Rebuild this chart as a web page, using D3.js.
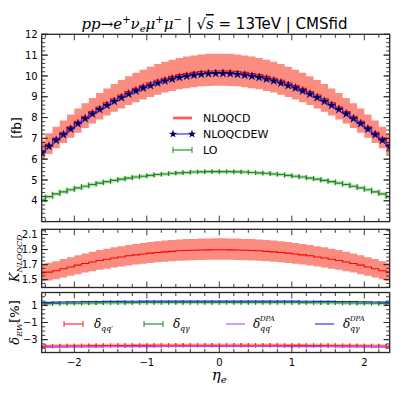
<!DOCTYPE html>
<html>
<head>
<meta charset="utf-8">
<script src="https://cdn.jsdelivr.net/npm/d3@7"></script>
<style>
    body { margin: 0; background: #fff; }
    text { font-family: "DejaVu Sans", sans-serif; fill: #000; }
    .math { font-family: "DejaVu Serif", serif; font-style: italic; }
    .frame { fill: none; stroke: #262626; stroke-width: 1.3; }
    .tick-line { stroke: #262626; stroke-width: 0.9; }
</style>
</head>
<body>
<div id="chart"></div>
<script>

// bin centres in eta_e (bin width 0.1)
var eta = [-2.45, -2.35, -2.25, -2.15, -2.05, -1.95, -1.85, -1.75, -1.65, -1.55,
    -1.45, -1.35, -1.25, -1.15, -1.05, -0.95, -0.85, -0.75, -0.65, -0.55,
    -0.45, -0.35, -0.25, -0.15, -0.05, 0.05, 0.15, 0.25, 0.35, 0.45,
    0.55, 0.65, 0.75, 0.85, 0.95, 1.05, 1.15, 1.25, 1.35, 1.45,
    1.55, 1.65, 1.75, 1.85, 1.95, 2.05, 2.15, 2.25, 2.35];

var nloqcd = [6.41, 6.72, 7.01, 7.29, 7.56, 7.82, 8.06, 8.29, 8.51, 8.71,
    8.90, 9.08, 9.25, 9.40, 9.54, 9.67, 9.79, 9.89, 9.98, 10.06,
    10.12, 10.17, 10.21, 10.24, 10.25, 10.25, 10.24, 10.21, 10.17, 10.12,
    10.06, 9.98, 9.89, 9.79, 9.67, 9.54, 9.40, 9.25, 9.08, 8.90,
    8.71, 8.51, 8.29, 8.06, 7.82, 7.56, 7.29, 7.01, 6.72];

var nloqcd_up = [6.91, 7.24, 7.56, 7.86, 8.15, 8.43, 8.69, 8.94, 9.18, 9.40,
    9.61, 9.80, 9.98, 10.15, 10.30, 10.44, 10.57, 10.68, 10.78, 10.86,
    10.93, 10.98, 11.03, 11.06, 11.07, 11.07, 11.06, 11.03, 10.98, 10.93,
    10.86, 10.78, 10.68, 10.57, 10.44, 10.30, 10.15, 9.98, 9.80, 9.61,
    9.40, 9.18, 8.94, 8.69, 8.43, 8.15, 7.86, 7.56, 7.24];

var nloqcd_down = [5.96, 6.25, 6.52, 6.78, 7.03, 7.27, 7.50, 7.71, 7.91, 8.10,
    8.28, 8.44, 8.60, 8.74, 8.87, 8.99, 9.10, 9.20, 9.28, 9.36,
    9.41, 9.46, 9.50, 9.52, 9.53, 9.53, 9.52, 9.50, 9.46, 9.41,
    9.36, 9.28, 9.20, 9.10, 8.99, 8.87, 8.74, 8.60, 8.44, 8.28,
    8.10, 7.91, 7.71, 7.50, 7.27, 7.03, 6.78, 6.52, 6.25];

var nloqcdew = [6.31, 6.62, 6.91, 7.18, 7.45, 7.71, 7.95, 8.18, 8.39, 8.59,
    8.78, 8.96, 9.13, 9.28, 9.42, 9.54, 9.66, 9.76, 9.85, 9.93,
    9.99, 10.04, 10.08, 10.11, 10.12, 10.12, 10.11, 10.08, 10.04, 9.99,
    9.93, 9.85, 9.76, 9.66, 9.54, 9.42, 9.28, 9.13, 8.96, 8.78,
    8.59, 8.39, 8.18, 7.95, 7.71, 7.45, 7.18, 6.91, 6.62];

var lo = [4.03, 4.20, 4.33, 4.43, 4.53, 4.62, 4.70, 4.78, 4.85, 4.92,
    4.98, 5.04, 5.09, 5.14, 5.18, 5.22, 5.26, 5.29, 5.32, 5.34,
    5.36, 5.38, 5.39, 5.40, 5.40, 5.40, 5.40, 5.39, 5.38, 5.36,
    5.34, 5.32, 5.29, 5.26, 5.22, 5.18, 5.14, 5.09, 5.04, 4.98,
    4.92, 4.85, 4.78, 4.70, 4.62, 4.53, 4.43, 4.33, 4.20];

// EW corrections in percent
var delta_qq = [-3.78, -3.76, -3.75, -3.74, -3.73, -3.72, -3.71, -3.70, -3.70, -3.69,
    -3.69, -3.68, -3.68, -3.67, -3.67, -3.67, -3.66, -3.66, -3.66, -3.66,
    -3.66, -3.65, -3.65, -3.65, -3.65, -3.65, -3.65, -3.65, -3.65, -3.66,
    -3.66, -3.66, -3.66, -3.66, -3.67, -3.67, -3.67, -3.68, -3.68, -3.69,
    -3.69, -3.70, -3.70, -3.71, -3.72, -3.73, -3.74, -3.75, -3.77];

var delta_qq_dpa = [-3.90, -3.89, -3.88, -3.87, -3.86, -3.85, -3.85, -3.84, -3.84, -3.83,
    -3.83, -3.82, -3.82, -3.82, -3.81, -3.81, -3.81, -3.80, -3.80, -3.80,
    -3.80, -3.80, -3.79, -3.79, -3.79, -3.79, -3.79, -3.79, -3.80, -3.80,
    -3.80, -3.80, -3.80, -3.81, -3.81, -3.81, -3.82, -3.82, -3.82, -3.83,
    -3.83, -3.84, -3.84, -3.85, -3.85, -3.86, -3.87, -3.88, -3.89];

var delta_qg = [1.18, 1.20, 1.22, 1.24, 1.25, 1.26, 1.27, 1.28, 1.29, 1.30,
    1.31, 1.31, 1.32, 1.32, 1.33, 1.33, 1.33, 1.34, 1.34, 1.34,
    1.34, 1.34, 1.34, 1.34, 1.34, 1.34, 1.34, 1.34, 1.34, 1.34,
    1.34, 1.34, 1.34, 1.33, 1.33, 1.33, 1.32, 1.32, 1.31, 1.31,
    1.30, 1.29, 1.28, 1.27, 1.26, 1.25, 1.24, 1.22, 1.20];

var delta_qg_dpa = [1.32, 1.35, 1.37, 1.39, 1.41, 1.42, 1.43, 1.44, 1.45, 1.46,
    1.47, 1.47, 1.48, 1.48, 1.49, 1.49, 1.49, 1.50, 1.50, 1.50,
    1.50, 1.50, 1.50, 1.50, 1.50, 1.50, 1.50, 1.50, 1.50, 1.50,
    1.50, 1.50, 1.50, 1.49, 1.49, 1.49, 1.48, 1.48, 1.47, 1.47,
    1.46, 1.45, 1.44, 1.43, 1.42, 1.41, 1.39, 1.37, 1.35];

var x_ticks = [-2, -1, 0, 1, 2];
var main_ticks = [4, 5, 6, 7, 8, 9, 10, 11, 12];
var k_ticks = [1.5, 1.7, 1.9, 2.1];
var ew_ticks = [1, -1, -3];

var width = 399
    , height = 399
    , half_bin = 0.05;

var svg = d3.select("#chart")
    .append("svg")
    .attr("width", width)
    .attr("height", height);

var x = d3.scaleLinear()
    .domain([-2.45, 2.35])
    .range([41.7, 389.7]);

var minus = function(d) { return String(d).replace("-", "\u2212"); };

var panels = [
    {id: "main", top: 34.3, bottom: 221.6, domain: [3, 12], minor: 0.2, ticks: main_ticks, fmt: d3.format("d")},
    {id: "kfac", top: 229.3, bottom: 287.5, domain: [1.396, 2.169], minor: 0.05, ticks: k_ticks, fmt: d3.format(".1f")},
    {id: "ew", top: 292.5, bottom: 352.5, domain: [-4.5, 2.5], minor: 0.5, ticks: ew_ticks, fmt: minus}
];

panels.forEach(function(p) {
    p.y = d3.scaleLinear().domain(p.domain).range([p.bottom, p.top]);
    svg.append("clipPath")
        .attr("id", "clip-" + p.id)
        .append("rect")
        .attr("x", x.range()[0])
        .attr("y", p.top)
        .attr("width", x.range()[1] - x.range()[0])
        .attr("height", p.bottom - p.top);
    p.g = svg.append("g").attr("clip-path", "url(#clip-" + p.id + ")");
});

// step helpers: every bin drawn from its left edge to its right edge
function steps(values) {
    var pts = eta.map(function(e, i) { return [e - half_bin, values[i]]; });
    pts.push([eta[eta.length - 1] + half_bin, values[values.length - 1]]);
    return pts;
}

function stepLine(y) {
    return d3.line()
        .x(function(d) { return x(d[0]); })
        .y(function(d) { return y(d[1]); })
        .curve(d3.curveStepAfter);
}

function stepArea(y, lowVals, highVals) {
    var pts = eta.map(function(e, i) { return [e - half_bin, lowVals[i], highVals[i]]; });
    pts.push([eta[eta.length - 1] + half_bin, lowVals[lowVals.length - 1], highVals[highVals.length - 1]]);
    var area = d3.area()
        .x(function(d) { return x(d[0]); })
        .y0(function(d) { return y(d[1]); })
        .y1(function(d) { return y(d[2]); })
        .curve(d3.curveStepAfter);
    return area(pts);
}

// horizontal error bar with caps at the bin edges
function xErrorBars(g, y, values, color) {
    var bars = g.append("g").attr("stroke", color).attr("fill", "none");
    bars.append("path")
        .attr("d", stepLine(y)(steps(values)))
        .attr("stroke-width", 3.5)
        .attr("stroke-opacity", 0.3);
    eta.forEach(function(e, i) {
        var yy = y(values[i]);
        bars.append("line")
            .attr("x1", x(e - half_bin)).attr("x2", x(e + half_bin))
            .attr("y1", yy).attr("y2", yy)
            .attr("stroke-width", 1.1);
        [e - half_bin, e + half_bin].forEach(function(xe) {
            bars.append("line")
                .attr("x1", x(xe)).attr("x2", x(xe))
                .attr("y1", yy - 2.2).attr("y2", yy + 2.2)
                .attr("stroke-width", 1);
        });
    });
}

// ---------- main panel
var pm = panels[0];

pm.g.append("path")
    .attr("d", stepArea(pm.y, nloqcd_down, nloqcd_up))
    .attr("fill", "#fa8072")
    .attr("fill-opacity", 0.9);

pm.g.append("path")
    .attr("d", stepLine(pm.y)(steps(nloqcd)))
    .attr("fill", "none")
    .attr("stroke", "#ff0000")
    .attr("stroke-width", 1.1);

pm.g.append("path")
    .attr("d", stepLine(pm.y)(steps(nloqcdew)))
    .attr("fill", "none")
    .attr("stroke", "#2020ff")
    .attr("stroke-width", 1.1);

var star = d3.symbol().type(d3.symbolStar).size(22);

pm.g.selectAll(".star")
    .data(eta)
    .enter().append("path")
    .attr("class", "star")
    .attr("d", star)
    .attr("transform", function(d, i) { return "translate(" + x(d) + "," + pm.y(nloqcdew[i]) + ")"; })
    .attr("fill", "#000060")
    .attr("stroke", "#000060")
    .attr("stroke-width", 0.4);

xErrorBars(pm.g, pm.y, lo, "#1a8a1a");

// ---------- K-factor panel
var pk = panels[1];

pk.g.append("path")
    .attr("d", stepArea(pk.y,
        nloqcd_down.map(function(v, i) { return v / lo[i]; }),
        nloqcd_up.map(function(v, i) { return v / lo[i]; })))
    .attr("fill", "#fa8072")
    .attr("fill-opacity", 0.9);

pk.g.append("path")
    .attr("d", stepLine(pk.y)(steps(nloqcd.map(function(v, i) { return v / lo[i]; }))))
    .attr("fill", "none")
    .attr("stroke", "#ff0000")
    .attr("stroke-width", 1.1);

// ---------- EW panel
var pe = panels[2];

xErrorBars(pe.g, pe.y, delta_qg, "#1a8a1a");

pe.g.append("path")
    .attr("d", stepLine(pe.y)(steps(delta_qg_dpa)))
    .attr("fill", "none")
    .attr("stroke", "#2020ff")
    .attr("stroke-width", 1.2);

xErrorBars(pe.g, pe.y, delta_qq, "#ff2020");

pe.g.append("path")
    .attr("d", stepLine(pe.y)(steps(delta_qq_dpa)))
    .attr("fill", "none")
    .attr("stroke", "#c040ff")
    .attr("stroke-width", 1.2);

// ---------- frames and ticks
function tickValues(domain, step) {
    var out = [];
    var start = Math.ceil(domain[0] / step - 1e-6);
    for (var k = start; k * step <= domain[1] + 1e-6; k++) out.push(+(k * step).toFixed(4));
    return out;
}

function isMajor(list, v) {
    return list.some(function(m) { return Math.abs(m - v) < 1e-6; });
}

panels.forEach(function(p, pi) {
    var fg = svg.append("g");
    var x0 = x.range()[0], x1 = x.range()[1];

    var xMinor = tickValues(x.domain(), 0.2);
    var yMinor = tickValues(p.domain, p.minor);
    var yMajor = p.ticks;

    xMinor.forEach(function(v) {
        var len = isMajor(x_ticks, v) ? 6 : 3.5;
        fg.append("line").attr("class", "tick-line")
            .attr("x1", x(v)).attr("x2", x(v)).attr("y1", p.bottom).attr("y2", p.bottom - len);
        fg.append("line").attr("class", "tick-line")
            .attr("x1", x(v)).attr("x2", x(v)).attr("y1", p.top).attr("y2", p.top + len);
    });

    yMinor.concat(yMajor).forEach(function(v) {
        var len = isMajor(yMajor, v) ? 6 : 3.5;
        fg.append("line").attr("class", "tick-line")
            .attr("x1", x0).attr("x2", x0 + len).attr("y1", p.y(v)).attr("y2", p.y(v));
        fg.append("line").attr("class", "tick-line")
            .attr("x1", x1).attr("x2", x1 - len).attr("y1", p.y(v)).attr("y2", p.y(v));
    });

    fg.selectAll(".ylab")
        .data(p.ticks)
        .enter().append("text")
        .attr("x", x0 - 4)
        .attr("y", function(d) { return p.y(d); })
        .attr("dy", "0.36em")
        .attr("text-anchor", "end")
        .attr("font-size", 10)
        .text(p.fmt);

    fg.append("rect").attr("class", "frame")
        .attr("x", x0).attr("y", p.top)
        .attr("width", x1 - x0).attr("height", p.bottom - p.top);

    if (pi == panels.length - 1) {
        fg.selectAll(".xlab")
            .data(x_ticks)
            .enter().append("text")
            .attr("x", function(d) { return x(d); })
            .attr("y", p.bottom + 13)
            .attr("text-anchor", "middle")
            .attr("font-size", 10)
            .text(minus);
    }
});

// ---------- title
var title = svg.append("text")
    .attr("x", 214.5)
    .attr("y", 29)
    .attr("text-anchor", "middle")
    .attr("font-size", 15);
title.append("tspan").attr("class", "math").text("pp");
title.append("tspan").attr("font-family", "DejaVu Serif").text("\u2192");
title.append("tspan").attr("class", "math").text("e");
title.append("tspan").attr("font-size", 10).attr("dy", -6).text("+");
title.append("tspan").attr("class", "math").attr("dy", 6).text("\u03bd");
title.append("tspan").attr("class", "math").attr("font-size", 10).attr("dy", 3).text("e");
title.append("tspan").attr("class", "math").attr("dy", -3).text("\u03bc");
title.append("tspan").attr("font-size", 10).attr("dy", -6).text("+");
title.append("tspan").attr("class", "math").attr("dy", 6).text("\u03bc");
title.append("tspan").attr("font-size", 10).attr("dy", -6).text("\u2212");
title.append("tspan").attr("dy", 6).text(" | \u221a");
title.append("tspan").attr("class", "math").attr("text-decoration", "overline").text("s");
title.append("tspan").text(" = 13TeV | CMSfid");

// ---------- axis labels
svg.append("text")
    .attr("transform", "translate(21," + (pm.top + pm.bottom) / 2 + ") rotate(-90)")
    .attr("text-anchor", "middle")
    .attr("font-size", 12)
    .text("[fb]");

var klab = svg.append("text")
    .attr("transform", "translate(19," + (pk.top + pk.bottom) / 2 + ") rotate(-90)")
    .attr("text-anchor", "middle")
    .attr("class", "math")
    .attr("font-size", 13);
klab.append("tspan").text("K");
klab.append("tspan").attr("font-size", 8).attr("dy", 3).text("NLOQCD");

var dlab = svg.append("text")
    .attr("transform", "translate(19," + (pe.top + pe.bottom) / 2 + ") rotate(-90)")
    .attr("text-anchor", "middle")
    .attr("font-size", 13);
dlab.append("tspan").attr("class", "math").text("\u03b4");
dlab.append("tspan").attr("class", "math").attr("font-size", 8).attr("dy", 3).text("EW");
dlab.append("tspan").attr("dy", -3).text("[%]");

var xlab = svg.append("text")
    .attr("x", x(0))
    .attr("y", 380)
    .attr("text-anchor", "middle")
    .attr("class", "math")
    .attr("font-size", 15);
xlab.append("tspan").text("\u03b7");
xlab.append("tspan").attr("font-size", 10).attr("dy", 3).text("e");

// ---------- legends
var main_legend = [
    {label: "NLOQCD", color: "#ff0000", kind: "band"},
    {label: "NLOQCDEW", color: "#2020ff", kind: "star"},
    {label: "LO", color: "#1a8a1a", kind: "err"}
];

var lg = svg.append("g");
main_legend.forEach(function(d, i) {
    var yy = 118 + i * 16, xa = 173, xb = 192;
    if (d.kind == "band") {
        lg.append("rect").attr("x", xa).attr("y", yy - 2).attr("width", xb - xa).attr("height", 4)
            .attr("fill", "#fa8072").attr("fill-opacity", 0.45);
    }
    lg.append("line").attr("x1", xa).attr("x2", xb).attr("y1", yy).attr("y2", yy)
        .attr("stroke", d.color).attr("stroke-width", 1.1);
    if (d.kind == "star") {
        [xa, xb].forEach(function(xs) {
            lg.append("path").attr("d", star).attr("transform", "translate(" + xs + "," + yy + ")")
                .attr("fill", "#000060");
        });
    }
    if (d.kind == "err") {
        [xa, xb].forEach(function(xs) {
            lg.append("line").attr("x1", xs).attr("x2", xs).attr("y1", yy - 3).attr("y2", yy + 3)
                .attr("stroke", d.color);
        });
    }
    lg.append("text").attr("x", 203).attr("y", yy).attr("dy", "0.36em")
        .attr("font-size", 11).text(d.label);
});

var ew_legend = [
    {sub: "qq\u2032", sup: "", color: "#ff2020", err: true, xa: 64, xt: 94},
    {sub: "q\u03b3", sup: "", color: "#1a8a1a", err: true, xa: 144, xt: 173},
    {sub: "qq\u2032", sup: "DPA", color: "#c040ff", err: false, xa: 226, xt: 253},
    {sub: "q\u03b3", sup: "DPA", color: "#2020ff", err: false, xa: 315, xt: 343}
];

ew_legend.forEach(function(d) {
    var yy = 324, xb = d.xa + 19;
    lg.append("line").attr("x1", d.xa).attr("x2", xb).attr("y1", yy).attr("y2", yy)
        .attr("stroke", d.color).attr("stroke-width", 1.1);
    if (d.err) {
        [d.xa, xb].forEach(function(xs) {
            lg.append("line").attr("x1", xs).attr("x2", xs).attr("y1", yy - 3).attr("y2", yy + 3)
                .attr("stroke", d.color);
        });
    }
    lg.append("text").attr("x", d.xt).attr("y", yy + 4).attr("class", "math")
        .attr("font-size", 12).text("\u03b4");
    lg.append("text").attr("x", d.xt + 7).attr("y", yy + 7).attr("class", "math")
        .attr("font-size", 8).text(d.sub);
    if (d.sup) {
        lg.append("text").attr("x", d.xt + 7).attr("y", yy - 3).attr("class", "math")
            .attr("font-size", 7).text(d.sup);
    }
});

</script>
</body>
</html>
